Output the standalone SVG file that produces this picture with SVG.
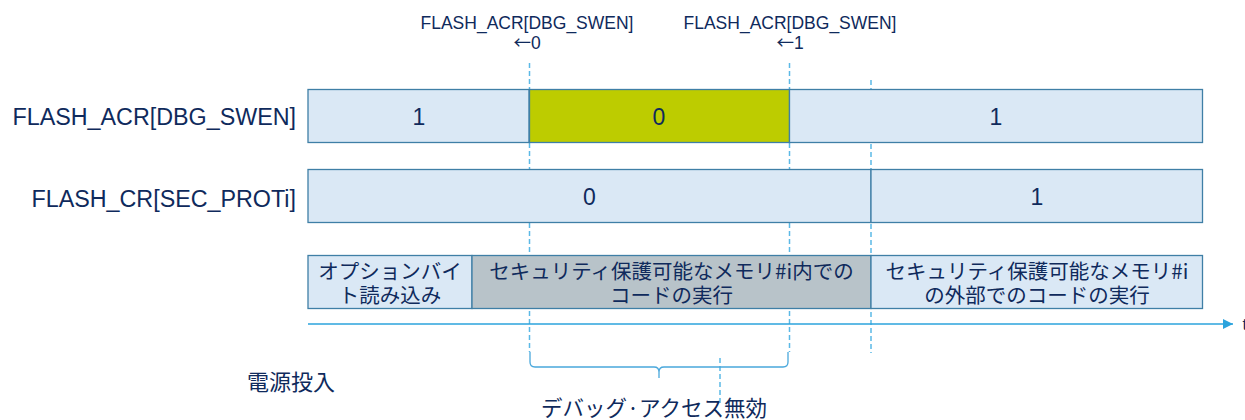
<svg xmlns="http://www.w3.org/2000/svg" width="1245" height="420" viewBox="0 0 1245 420">
<style>
.lat{font-family:"Liberation Sans",Arial,sans-serif;fill:#0f2a5c}
.jp{font-family:"Noto Sans CJK JP","Noto Sans",sans-serif;fill:#0f2a5c}
.arr{font-family:"Noto Sans CJK JP",sans-serif}
.box{fill:#dae8f5;stroke:#3f7fa6;stroke-width:1.3}
.on{fill:#bdcc00;stroke:#3f7fa6;stroke-width:1.3}
.grey{fill:#b8c3c9;stroke:#3f7fa6;stroke-width:1.3}
.dash{stroke:#5bb9e6;stroke-width:1.5;stroke-dasharray:5 3;fill:none}
.axis{stroke:#2ba3dd;stroke-width:1.5;fill:none}
.brace{stroke:#4aa8dc;stroke-width:1.3;fill:none}
</style>
<defs>
<marker id="ah" viewBox="0 0 10 10" refX="10" refY="5" markerWidth="10" markerHeight="10" markerUnits="userSpaceOnUse" orient="auto">
<path d="M0,0 L10,5 L0,10 z" fill="#2ba3dd"/>
</marker>
</defs>

<g id="guides">
<line class="dash" x1="529.5" y1="63" x2="529.5" y2="352"/>
<line class="dash" x1="789.5" y1="63" x2="789.5" y2="352"/>
<line class="dash" x1="871" y1="80" x2="871" y2="353"/>
<line class="dash" x1="720" y1="358" x2="720" y2="404"/>
</g>

<g id="labels-top">
<text class="lat" x="527" y="29" font-size="17.5" text-anchor="middle">FLASH_ACR[DBG_SWEN]</text>
<text class="lat" x="527" y="49" font-size="17.5" text-anchor="middle"><tspan class="arr">←</tspan>0</text>
<text class="lat" x="790" y="29" font-size="17.5" text-anchor="middle">FLASH_ACR[DBG_SWEN]</text>
<text class="lat" x="790" y="49" font-size="17.5" text-anchor="middle"><tspan class="arr">←</tspan>1</text>
</g>

<g id="row-acr">
<text class="lat" x="296" y="125" font-size="23.3" text-anchor="end">FLASH_ACR[DBG_SWEN]</text>
<rect class="box" x="308" y="89.5" width="221" height="53"/>
<rect class="on" x="529.5" y="89.5" width="260" height="53"/>
<rect class="box" x="789.5" y="89.5" width="413" height="53"/>
<text class="lat" x="419" y="124.5" font-size="23" text-anchor="middle">1</text>
<text class="lat" x="659" y="124.5" font-size="23" text-anchor="middle">0</text>
<text class="lat" x="996" y="124.5" font-size="23" text-anchor="middle">1</text>
</g>

<g id="row-cr">
<text class="lat" x="296" y="207" font-size="23.3" text-anchor="end">FLASH_CR[SEC_PROTi]</text>
<rect class="box" x="308" y="169.5" width="563" height="53"/>
<rect class="box" x="871" y="169.5" width="331.5" height="53"/>
<text class="lat" x="589.5" y="205" font-size="23" text-anchor="middle">0</text>
<text class="lat" x="1037" y="205" font-size="23" text-anchor="middle">1</text>
</g>

<g id="row-phase">
<rect class="box" x="308" y="255.5" width="164" height="53"/>
<rect class="grey" x="472" y="255.5" width="399" height="53"/>
<rect class="box" x="871" y="255.5" width="331.5" height="53"/>
<text class="jp" x="390" y="279" font-size="20.5" text-anchor="middle">オプションバイ</text>
<text class="jp" x="390" y="303" font-size="20.5" text-anchor="middle">ト読み込み</text>
<text class="jp" x="671.5" y="279" font-size="20.5" text-anchor="middle">セキュリティ保護可能なメモリ#i内での</text>
<text class="jp" x="671.5" y="303" font-size="20.5" text-anchor="middle">コードの実行</text>
<text class="jp" x="1037" y="279" font-size="20.5" text-anchor="middle">セキュリティ保護可能なメモリ#i</text>
<text class="jp" x="1037" y="303" font-size="20.5" text-anchor="middle">の外部でのコードの実行</text>
</g>

<g id="connectors">
<line class="axis" x1="308" y1="324" x2="1233" y2="324" marker-end="url(#ah)"/>
<path class="brace" d="M530,352 L530,362 Q530,367 535,367 L654,367 Q659,367 659,372 L659,378 M659,372 Q659,367 664,367 L783,367 Q788,367 788,362 L788,352"/>
</g>

<g id="labels-bottom">
<text class="lat" x="1242.5" y="330" font-size="17">t</text>
<text class="jp" x="247" y="390" font-size="22">電源投入</text>
<text class="jp" x="654" y="416" font-size="21.5" text-anchor="middle">デバッグ·アクセス無効</text>
</g>
</svg>
